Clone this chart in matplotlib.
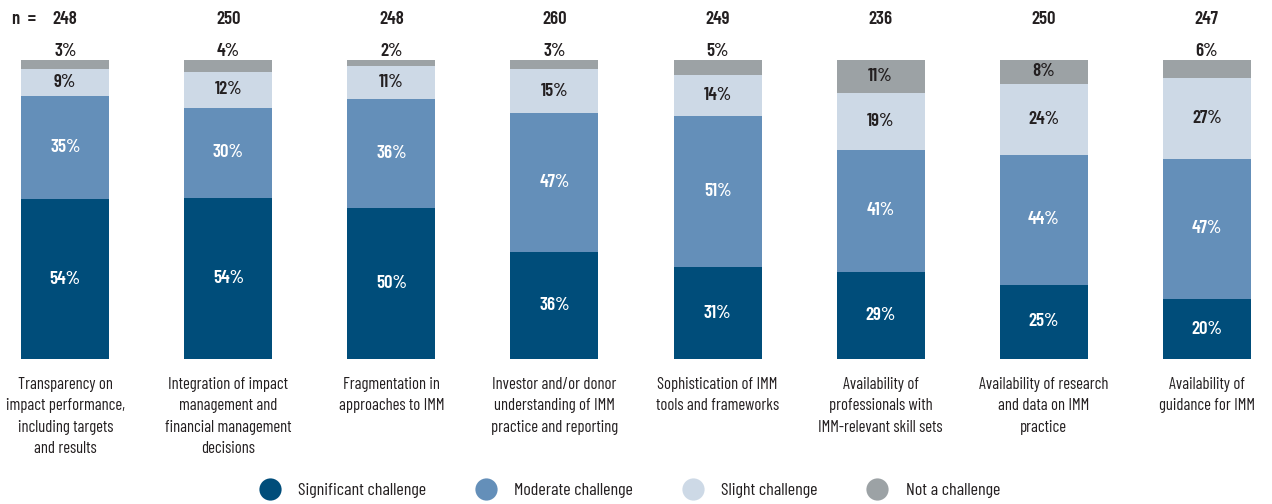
import matplotlib
matplotlib.use("Agg")
import matplotlib.pyplot as plt
from matplotlib.lines import Line2D
import numpy as np

categories = [
    "Transparency on\nimpact performance,\nincluding targets\nand results",
    "Integration of impact\nmanagement and\nfinancial management\ndecisions",
    "Fragmentation in\napproaches to IMM",
    "Investor and/or donor\nunderstanding of IMM\npractice and reporting",
    "Sophistication of IMM\ntools and frameworks",
    "Availability of\nprofessionals with\nIMM-relevant skill sets",
    "Availability of research\nand data on IMM\npractice",
    "Availability of\nguidance for IMM",
]
n_values = [248, 250, 248, 260, 249, 236, 250, 247]
significant = [54, 54, 50, 36, 31, 29, 25, 20]
moderate = [35, 30, 36, 47, 51, 41, 44, 47]
slight = [9, 12, 11, 15, 14, 19, 24, 27]
not_challenge = [3, 4, 2, 3, 5, 11, 8, 6]
series_names = ["Significant challenge", "Moderate challenge", "Slight challenge", "Not a challenge"]

colors = ["#004d7a", "#648fb9", "#cdd9e6", "#9ca2a5"]
text_colors = ["white", "white", "#231f20", "#231f20"]

FAM = ['Barlow Condensed', 'DejaVu Sans']
plt.rcParams['font.family'] = FAM
FONT = dict(family=FAM)

fig = plt.figure(figsize=(12.72, 5.04), dpi=100)
ax = fig.add_axes([0.0, 145/504, 1.0, 299/504])

series = [significant, moderate, slight, not_challenge]
data = np.array(series, dtype=float)
totals = data.sum(axis=0)
norm = data / totals * 100
x = np.arange(len(categories))
width = 0.54
NUM = 13.5
bottom = np.zeros(len(categories))
for i, vals in enumerate(norm):
    ax.bar(x, vals, width, bottom=bottom, color=colors[i], linewidth=0)
    for j, v in enumerate(vals):
        raw = series[i][j]
        if raw < 7:
            ax.text(x[j], 101.2, f"{raw}%", ha='center', va='baseline',
                    fontsize=NUM, color="#231f20", fontweight=600, **FONT)
        else:
            ax.text(x[j], bottom[j] + v / 2, f"{raw}%", ha='center', va='center',
                    fontsize=NUM, color=text_colors[i], fontweight=600, **FONT)
    bottom += vals

ax.set_xlim(-0.4, 7.4)
ax.set_ylim(0, 100)
ax.axis('off')

ny = 1 - 24 / 504
for j, nv in enumerate(n_values):
    px = ax.transData.transform((x[j], 0))[0] / fig.bbox.width
    fig.text(px, ny, str(nv), ha='center', va='baseline', fontsize=NUM,
             color="#231f20", fontweight=600, **FONT)
fig.text(12 / 1272, ny, "n  =", ha='left', va='baseline', fontsize=NUM,
         color="#231f20", fontweight=600, **FONT)

for j, cat in enumerate(categories):
    ax.text(x[j], -0.06, cat, transform=ax.get_xaxis_transform(), ha='center',
            va='top', fontsize=12, color="#231f20", linespacing=1.53, **FONT)

handles = [Line2D([0], [0], marker='o', linestyle='none', markersize=16,
                  markerfacecolor=c, markeredgecolor='none') for c in colors]
leg = fig.legend(handles, series_names, loc='center',
                 bbox_to_anchor=(0.5 - 10 / 1272, 1 - 490 / 504),
                 ncol=4, frameon=False, columnspacing=2.3, handletextpad=0.57,
                 prop=dict(family=FAM, size=13))
for t in leg.get_texts():
    t.set_color("#231f20")

fig.savefig("out.png", dpi=100)
